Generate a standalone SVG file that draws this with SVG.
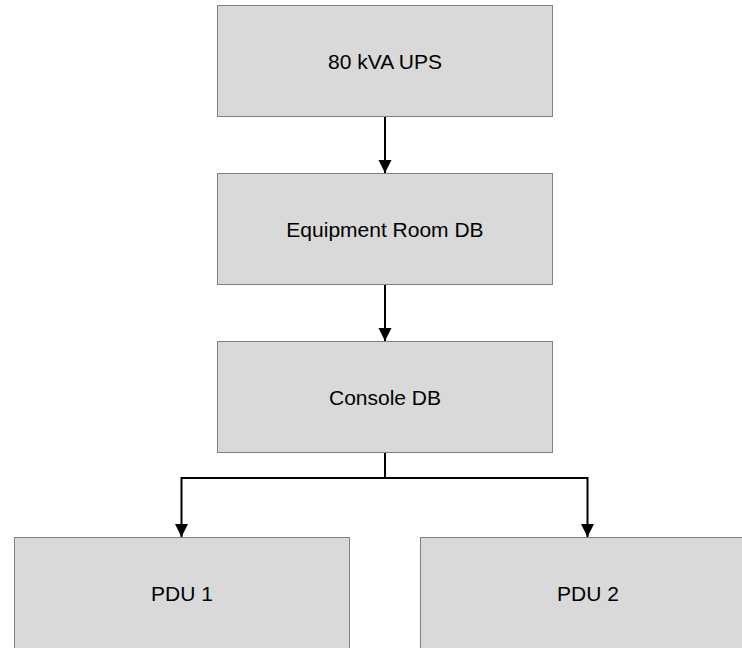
<svg xmlns="http://www.w3.org/2000/svg" width="742" height="648" viewBox="0 0 742 648">
<style>
.box{fill:#d9d9d9;stroke:#808080;stroke-width:1}
.lbl{font-family:"Liberation Sans",Arial,sans-serif;font-size:21px;fill:#000;text-anchor:middle}
.con{fill:none;stroke:#000;stroke-width:2}
</style>
<defs>
<marker id="arr" markerUnits="userSpaceOnUse" markerWidth="14" markerHeight="14" viewBox="0 0 14 14" refX="13" refY="7" orient="auto">
<path d="M0,0.5 L13,7 L0,13.5 Z" fill="#000"/>
</marker>
</defs>
<rect width="742" height="648" fill="#fff"/>
<g id="ups"><rect class="box" x="217.5" y="5.5" width="335" height="111"/><text class="lbl" x="385" y="69">80 kVA UPS</text></g>
<g id="equip"><rect class="box" x="217.5" y="173.5" width="335" height="111"/><text class="lbl" x="385" y="237">Equipment Room DB</text></g>
<g id="console"><rect class="box" x="217.5" y="341.5" width="335" height="111"/><text class="lbl" x="385" y="405">Console DB</text></g>
<g id="pdu1"><rect class="box" x="14.5" y="537.5" width="335" height="112"/><text class="lbl" x="182" y="601">PDU 1</text></g>
<g id="pdu2"><rect class="box" x="420.5" y="537.5" width="335" height="112"/><text class="lbl" x="588" y="601">PDU 2</text></g>
<g id="connectors">
<path class="con" d="M385,117 V173" marker-end="url(#arr)"/>
<path class="con" d="M385,285 V341" marker-end="url(#arr)"/>
<path class="con" d="M385,453 V478 H181.5 V537" marker-end="url(#arr)"/>
<path class="con" d="M385,478 H587.5 V537" marker-end="url(#arr)"/>
</g>
</svg>
